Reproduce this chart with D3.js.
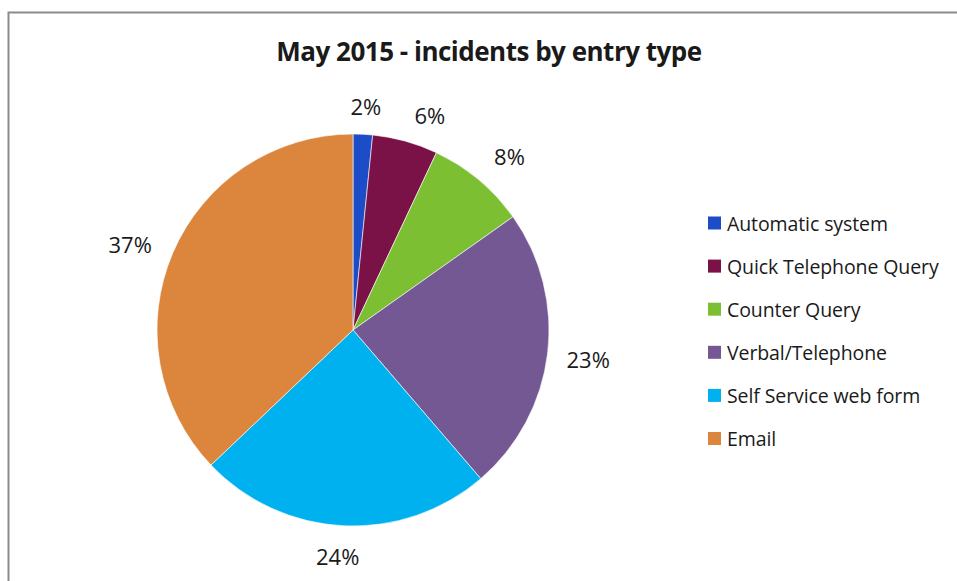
<!DOCTYPE html>
<html>
<head>
<meta charset="utf-8">
<script src="https://cdn.jsdelivr.net/npm/d3@7"></script>
<style>
  body { margin: 0; background: #fff; }
  text { font-family: "Open Sans", "Noto Sans", sans-serif; fill: #1a1a1a; }
</style>
</head>
<body>
<svg id="chart"></svg>
<script>
const categories = ["Automatic system", "Quick Telephone Query", "Counter Query",
  "Verbal/Telephone", "Self Service web form", "Email"];
const values = [1.6, 5.4, 8.2, 23.5, 24.2, 37.1];
const labels = ["2%", "6%", "8%", "23%", "24%", "37%"];
const colors = ["#1c4cc8", "#7a1147", "#7cbf32", "#735893", "#00b1ef", "#db863c"];

const width = 957;
const height = 581;
const cx = 353, cy = 330, radius = 196;

const svg = d3.select("#chart")
  .attr("width", width)
  .attr("height", height);

svg.append("rect")
  .attr("x", 8.5)
  .attr("y", 12.5)
  .attr("width", 960)
  .attr("height", 600)
  .attr("fill", "none")
  .attr("stroke", "#8c8c8c")
  .attr("stroke-width", 2);

svg.append("text")
  .attr("x", 489)
  .attr("y", 61)
  .attr("text-anchor", "middle")
  .attr("font-size", 26)
  .attr("font-weight", "bold")
  .attr("letter-spacing", -0.5)
  .text("May 2015 - incidents by entry type");

const data = categories.map((c, i) => ({ name: c, value: values[i], label: labels[i], color: colors[i] }));

const pie = d3.pie().sort(null).value(d => d.value);
const arc = d3.arc().innerRadius(0).outerRadius(radius);

const g = svg.append("g").attr("transform", `translate(${cx},${cy})`);
const arcs = pie(data);

g.selectAll("path")
  .data(arcs)
  .join("path")
  .attr("d", arc)
  .attr("fill", d => d.data.color)
  .attr("stroke", "#fff")
  .attr("stroke-width", 0.6);

// label placement: distance from center and angle nudge (degrees) per slice
const labelDist = [224, 228, 234, 237, 227, 239];
const labelNudge = [0.4, 4.2, 2, 0, 1, -2];
function labelPos(d, i) {
  const a = (d.startAngle + d.endAngle) / 2 + labelNudge[i] * Math.PI / 180;
  return [Math.sin(a) * labelDist[i], -Math.cos(a) * labelDist[i]];
}

g.selectAll(".label")
  .data(arcs)
  .join("text")
  .classed("label", true)
  .attr("text-anchor", "middle")
  .attr("dominant-baseline", "central")
  .attr("font-size", 22)
  .attr("x", (d, i) => labelPos(d, i)[0])
  .attr("y", (d, i) => labelPos(d, i)[1])
  .text(d => d.data.label);

const legend = svg.append("g").attr("transform", "translate(708,223)");
const row = legend.selectAll("g")
  .data(data)
  .join("g")
  .attr("transform", (d, i) => `translate(0,${i * 43.1})`);

row.append("rect")
  .attr("x", 0)
  .attr("y", -6.5)
  .attr("width", 13)
  .attr("height", 13)
  .attr("fill", d => d.color);

row.append("text")
  .attr("x", 19)
  .attr("y", 0)
  .attr("dominant-baseline", "central")
  .attr("font-size", 19.5)
  .attr("letter-spacing", -0.1)
  .text(d => d.name);
</script>
</body>
</html>
